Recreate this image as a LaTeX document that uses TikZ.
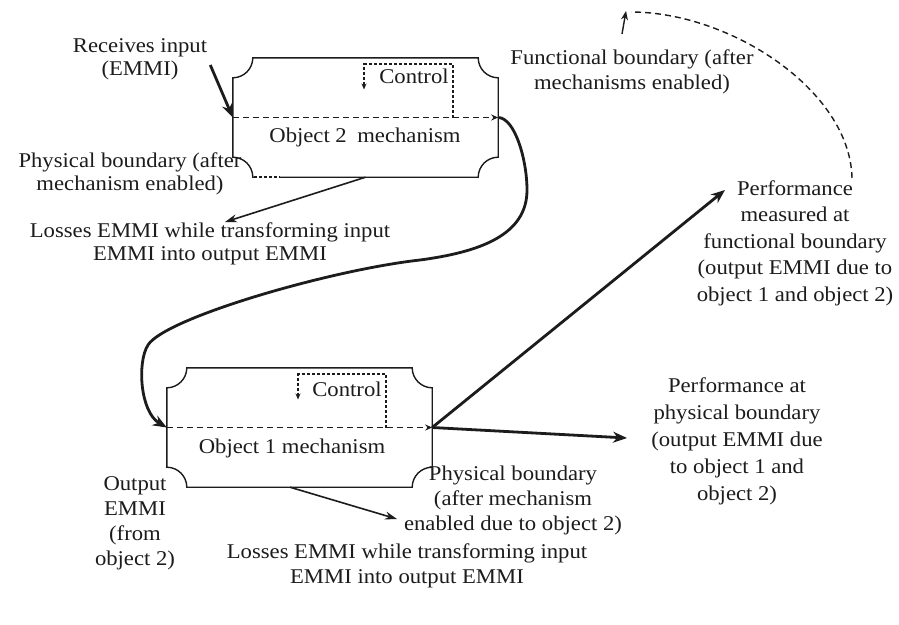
\documentclass[tikz,border=0pt]{standalone}
\usepackage{fontspec}
\setmainfont[FakeStretch=1.08]{Liberation Serif}
\usetikzlibrary{arrows.meta,calc}
\definecolor{ink}{HTML}{1C1C1C}
\newcommand\ticketbox[1]{%
 \draw[outline] ([xshift=20pt]#1.north west) -- ([xshift=-20pt]#1.north east)
 .. controls ([xshift=-20pt,yshift=-11pt]#1.north east) and ([xshift=-11pt,yshift=-20pt]#1.north east) .. ([yshift=-20pt]#1.north east)
 -- ([yshift=20pt]#1.south east)
 .. controls ([xshift=-11pt,yshift=20pt]#1.south east) and ([xshift=-20pt,yshift=11pt]#1.south east) .. ([xshift=-20pt]#1.south east)
 -- ([xshift=20pt]#1.south west)
 .. controls ([xshift=20pt,yshift=11pt]#1.south west) and ([xshift=11pt,yshift=20pt]#1.south west) .. ([yshift=20pt]#1.south west)
 -- ([yshift=-20pt]#1.north west)
 .. controls ([xshift=11pt,yshift=-20pt]#1.north west) and ([xshift=20pt,yshift=-11pt]#1.north west) .. cycle;}
\begin{document}
\begin{tikzpicture}[x=1pt,y=-1pt,
  txt/.style={font=\fontsize{21}{25}\selectfont, align=center, inner sep=0pt, text=ink},
  boxnode/.style={minimum width=265pt, minimum height=119pt, inner sep=0pt, draw=none},
  outline/.style={line width=1.4pt, draw=ink},
  flowline/.style={draw=ink, dash pattern=on 6pt off 4pt, line width=1.3pt, -{Stealth[length=7pt,width=6pt]}},
  ctrlline/.style={draw=ink, dash pattern=on 3pt off 2pt, line width=1.1pt, -{Stealth[length=6pt,width=5pt]}},
  heavy/.style={draw=ink, line width=2.8pt, -{Stealth[length=14pt,width=11pt]}},
  light/.style={draw=ink, line width=1.6pt, -{Stealth[length=12pt,width=8pt]}},
  arcline/.style={draw=ink, dash pattern=on 6pt off 4pt, line width=1.4pt},
]
\useasboundingbox (0,0) rectangle (899,624);
\fill[white] (0,0) rectangle (899,624);

% boxes
\node[boxnode] (b2) at (365.5,117.5) {};
\node[boxnode] (b1) at (299.5,427.5) {};
\ticketbox{b2}
\ticketbox{b1}
% dotted gap on box 2 bottom edge
\draw[white, line width=2.6pt] (254,177) -- (280,177);
\draw[draw=ink, dash pattern=on 3pt off 2pt, line width=1.1pt] (254,177) -- (280,177);

% inner flow lines
\draw[flowline] (b2.west) -- (b2.east);
\draw[flowline] (b1.west) -- (b1.east);

% control boxes
\node[txt] (c2) at (414,76) {Control};
\node[txt] (c1) at (347,389) {Control};
\draw[ctrlline] ($(b2.center)+(87.5,0)$) -- ($(b2.center)+(87.5,-53.5)$) -- ($(b2.center)+(-1.5,-53.5)$) -- ($(b2.center)+(-1.5,-28)$);
\draw[ctrlline] ($(b1.center)+(86.5,0)$) -- ($(b1.center)+(86.5,-53.5)$) -- ($(b1.center)+(-1.5,-53.5)$) -- ($(b1.center)+(-1.5,-28)$);

% mechanism labels
\node[txt] (m2) at (365,137) {Object 2\enspace mechanism};
\node[txt] (m1) at (292,448) {Object 1 mechanism};

% texts
\node[txt, font=\fontsize{21}{23}\selectfont] (recv) at (140,59) {Receives input\\(EMMI)};
\node[txt] (func) at (632,72) {Functional boundary (after\\mechanisms enabled)};
\node[txt, font=\fontsize{21}{23}\selectfont] (pb2) at (130,173.5) {Physical boundary (after\\mechanism enabled)};
\node[txt, font=\fontsize{21}{23}\selectfont] (loss2) at (210,243.5) {Losses EMMI while transforming input\\EMMI into output EMMI};
\node[txt, font=\fontsize{21}{26.5}\selectfont] (pm) at (795,243) {Performance\\measured at\\functional boundary\\(output EMMI due to\\object 1 and object 2)};
\node[txt, font=\fontsize{21}{27}\selectfont] (pp) at (737,441) {Performance at\\physical boundary\\(output EMMI due\\to object 1 and\\object 2)};
\node[txt] (outp) at (135,523.5) {Output\\EMMI\\(from\\object 2)};
\node[txt] (pb1) at (513,500) {Physical boundary\\(after mechanism\\enabled due to object 2)};
\node[txt] (loss1) at (407,565.5) {Losses EMMI while transforming input\\EMMI into output EMMI};

% coordinates for free ends
\coordinate (pmtip) at (725,190);
\coordinate (pptip) at (627,438);
\coordinate (l2tip) at (225,222);
\coordinate (l1tip) at (397,519);
\coordinate (arcstart) at (852,178);
\coordinate (arcend) at (631,12);
\coordinate (fstem) at (622,34);
\coordinate (ftip) at (626,11);

% connectors
\draw[heavy] ([shift={(3,6)}]recv.east) -- (b2.west);
\draw[heavy] (b2.east) .. controls (515,118) and (527,160) .. (527,190)
  .. controls (527,235) and (480,252) .. (420,260)
  .. controls (330,270) and (165,318) .. (148,345)
  .. controls (137,362) and (140,412) .. (b1.west);
\draw[heavy] (b1.east) -- (pmtip);
\draw[heavy] (b1.east) -- (pptip);
\draw[light] (b2.south) -- (l2tip);
\draw[light] ([xshift=-9.5pt]b1.south) -- (l1tip);

% functional boundary dashed arc
\draw[arcline] (arcstart) .. controls (850,90) and (730,12) .. (arcend);
\draw[draw=ink, line width=1.4pt, -{Stealth[length=9pt,width=7pt]}] (fstem) -- (ftip);
\end{tikzpicture}
\end{document}
